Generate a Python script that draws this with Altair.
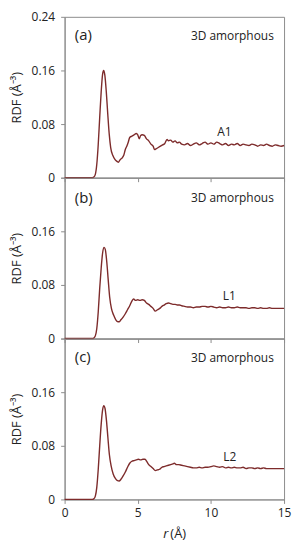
import altair as alt
import pandas as pd

# ---------------- data ----------------
r_a1 = [0, 1.9, 2.0, 2.1, 2.2, 2.3, 2.4, 2.5, 2.6, 2.67, 2.75, 2.85, 2.95, 3.05, 3.15, 3.3, 3.45, 3.6, 3.67,
        3.8, 3.95, 4.05, 4.15, 4.25, 4.35, 4.45, 4.6, 4.75, 4.9, 5.0, 5.1, 5.2, 5.3, 5.45, 5.6, 5.75, 5.9,
        6.05, 6.15, 6.25, 6.4, 6.55, 6.7, 6.85, 7.0, 7.1, 7.25, 7.4, 7.55, 7.7, 7.85, 8.0]
v_a1 = [0, 0, 0.001, 0.005, 0.02, 0.05, 0.09, 0.128, 0.155, 0.160, 0.153, 0.128, 0.095, 0.065, 0.045, 0.033,
        0.027, 0.024, 0.023, 0.027, 0.030, 0.034, 0.042, 0.047, 0.053, 0.060, 0.062, 0.064, 0.066, 0.064,
        0.058, 0.063, 0.064, 0.063, 0.058, 0.055, 0.050, 0.047, 0.042, 0.043, 0.045, 0.047, 0.049, 0.051,
        0.057, 0.055, 0.056, 0.053, 0.055, 0.052, 0.053, 0.050]

r_tail = [8.2, 8.4, 8.6, 8.8, 9.0, 9.2, 9.4, 9.6, 9.8, 10.0, 10.2, 10.4, 10.6, 10.8, 11.0, 11.2, 11.4,
          11.6, 11.8, 12.0, 12.2, 12.4, 12.6, 12.8, 13.0, 13.2, 13.4, 13.6, 13.8, 14.0, 14.2, 14.4, 14.6,
          14.8, 15.0]
v_a1_tail = [0.049, 0.051, 0.048, 0.050, 0.052, 0.049, 0.051, 0.053, 0.050, 0.052, 0.050, 0.053, 0.051,
             0.049, 0.051, 0.048, 0.050, 0.049, 0.051, 0.048, 0.050, 0.049, 0.048, 0.050, 0.049, 0.047,
             0.049, 0.048, 0.050, 0.048, 0.047, 0.049, 0.048, 0.047, 0.048]

r_l1 = [0, 1.9, 2.0, 2.1, 2.2, 2.3, 2.4, 2.5, 2.6, 2.7, 2.78, 2.88, 2.98, 3.08, 3.2, 3.35, 3.5, 3.65, 3.72,
        3.85, 4.0, 4.15, 4.3, 4.45, 4.6, 4.72, 4.85, 5.0, 5.15, 5.3, 5.45, 5.6, 5.75, 5.9, 6.05, 6.2, 6.35,
        6.5, 6.65, 6.8, 6.95, 7.1, 7.25, 7.4, 7.55, 7.7, 7.85, 8.0]
v_l1 = [0, 0, 0.001, 0.004, 0.015, 0.04, 0.075, 0.105, 0.128, 0.136, 0.133, 0.115, 0.088, 0.062, 0.045,
        0.035, 0.028, 0.025, 0.025, 0.028, 0.032, 0.037, 0.043, 0.049, 0.056, 0.059, 0.057, 0.058, 0.057,
        0.058, 0.057, 0.053, 0.051, 0.048, 0.045, 0.041, 0.043, 0.045, 0.048, 0.050, 0.052, 0.053, 0.052,
        0.051, 0.051, 0.050, 0.050, 0.049]
v_l1_tail = [0.048, 0.047, 0.047, 0.046, 0.047, 0.047, 0.048, 0.048, 0.047, 0.048, 0.047, 0.046, 0.047,
             0.046, 0.046, 0.047, 0.046, 0.046, 0.047, 0.046, 0.046, 0.046, 0.045, 0.046, 0.046, 0.045,
             0.046, 0.045, 0.045, 0.046, 0.045, 0.045, 0.045, 0.045, 0.045]

r_l2 = [0, 1.9, 2.0, 2.1, 2.2, 2.3, 2.4, 2.5, 2.6, 2.68, 2.76, 2.86, 2.96, 3.06, 3.18, 3.32, 3.48, 3.62,
        3.72, 3.85, 4.0, 4.15, 4.3, 4.45, 4.6, 4.75, 4.9, 5.05, 5.2, 5.35, 5.5, 5.6, 5.75, 5.9, 6.05, 6.2,
        6.35, 6.5, 6.65, 6.8, 6.95, 7.1, 7.25, 7.4, 7.5, 7.65, 7.8, 8.0]
v_l2 = [0, 0, 0.001, 0.005, 0.018, 0.045, 0.08, 0.112, 0.134, 0.140, 0.136, 0.118, 0.092, 0.067, 0.050,
        0.038, 0.031, 0.028, 0.0275, 0.030, 0.035, 0.041, 0.048, 0.054, 0.057, 0.058, 0.059, 0.060, 0.059,
        0.060, 0.060, 0.057, 0.052, 0.049, 0.046, 0.043, 0.044, 0.045, 0.048, 0.049, 0.050, 0.051, 0.052,
        0.053, 0.054, 0.052, 0.052, 0.051]
v_l2_tail = [0.050, 0.049, 0.048, 0.047, 0.047, 0.048, 0.047, 0.048, 0.048, 0.049, 0.050, 0.049, 0.048,
             0.049, 0.047, 0.048, 0.047, 0.048, 0.047, 0.047, 0.048, 0.046, 0.047, 0.047, 0.046, 0.047,
             0.046, 0.047, 0.046, 0.046, 0.046, 0.046, 0.046, 0.046, 0.046]

panel_tags = ["(a)", "(b)", "(c)"]
series_names = ["A1", "L1", "L2"]
structure_label = "3D amorphous"
y_ticks = [0, 0.04, 0.08, 0.12, 0.16, 0.2, 0.24]
x_ticks = [0, 2.5, 5, 7.5, 10, 12.5, 15]

# ---------------- styling ----------------
W, H = 221, 162
LINE = "#7d2b2b"
FRAME = "#8c8c8c"
TXT = "#222222"
FONT = "Open Sans"


def panel(r, v, tag, name, name_pos, tag_y, bottom):
    df = pd.DataFrame({"r": r, "v": v})
    y_expr = ("datum.value == 0 ? '0' : (round(datum.value*100) % 8 == 0 ? format(datum.value, '.2f') : '')"
              if tag == "(a)" else
              "datum.value == 0 ? '0' : (round(datum.value*100) % 8 == 0 && datum.value < 0.2 ? format(datum.value, '.2f') : '')")
    if bottom:
        x_axis = alt.Axis(values=x_ticks, title=None, labelFlush=False, tickSize=4, labelPadding=4,
                          labelExpr="datum.value % 5 == 0 ? format(datum.value, 'd') : ''")
    else:
        x_axis = alt.Axis(values=x_ticks, title=None, labels=False, tickSize=4)
    line = alt.Chart(df).mark_line(color=LINE, strokeWidth=1.4, interpolate="monotone").encode(
        x=alt.X("r:Q", scale=alt.Scale(domain=[0, 15], nice=False, zero=False), axis=x_axis),
        y=alt.Y("v:Q", scale=alt.Scale(domain=[0, 0.24], nice=False),
                axis=alt.Axis(values=y_ticks, labelExpr=y_expr, title="RDF (Å⁻³)", tickSize=4,
                              labelPadding=6, titlePadding=8)),
    )
    one = alt.Data(values=[{"k": 1}])
    t_tag = alt.Chart(one).mark_text(text=tag, font=FONT, fontSize=15, align="left", baseline="middle",
                                     color=TXT).encode(x=alt.datum(0.7), y=alt.datum(tag_y))
    t_struct = alt.Chart(one).mark_text(text=structure_label, font=FONT, fontSize=12, align="right",
                                        baseline="middle", color=TXT).encode(
        x=alt.datum(14.3), y=alt.datum(tag_y - 0.001))
    t_name = alt.Chart(one).mark_text(text=name, font=FONT, fontSize=12, align="center", baseline="middle",
                                      color=TXT).encode(x=alt.datum(name_pos[0]), y=alt.datum(name_pos[1]))
    layers = [line, t_tag, t_struct, t_name]
    if bottom:
        layers.append(alt.Chart(one).mark_text(text="r", font=FONT, fontSize=13, fontStyle="italic",
                                               align="right", baseline="alphabetic", color=TXT).encode(
            x=alt.value(W / 2 - 6), y=alt.value(H + 39)))
        layers.append(alt.Chart(one).mark_text(text="(Å)", font=FONT, fontSize=13, align="left",
                                               baseline="alphabetic", color=TXT).encode(
            x=alt.value(W / 2 - 4), y=alt.value(H + 39)))
    return alt.layer(*layers).properties(width=W, height=H)


pa = panel(r_a1 + r_tail, v_a1 + v_a1_tail, panel_tags[0], series_names[0], (10.93, 0.068), 0.213, False)
pb = panel(r_l1 + r_tail, v_l1 + v_l1_tail, panel_tags[1], series_names[1], (11.25, 0.0635), 0.21, False)
pc = panel(r_l2 + r_tail, v_l2 + v_l2_tail, panel_tags[2], series_names[2], (11.29, 0.0627), 0.212, True)

chart = alt.vconcat(pa, pb, pc, spacing=0, bounds="flush").properties(
    padding={"left": 1, "top": 0, "right": 0, "bottom": 0}
).configure_view(stroke=FRAME, strokeWidth=1).configure_axis(
    labelFont=FONT, labelFontSize=12, labelColor=TXT, titleFont=FONT, titleFontSize=13,
    titleFontWeight="normal", titleColor=TXT, domainColor=FRAME, tickColor=FRAME, grid=False,
)

chart.save("out.html", embed_options={"renderer": "svg", "actions": False})
